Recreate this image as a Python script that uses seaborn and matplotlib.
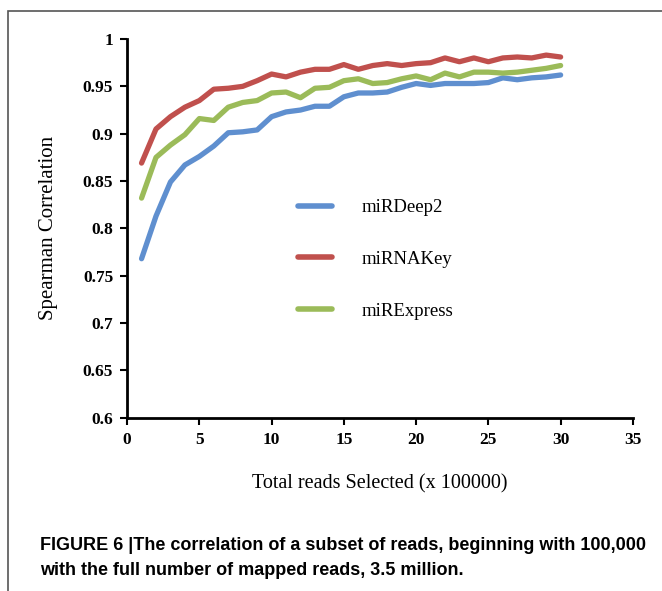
import pandas as pd
import numpy as np
import matplotlib
matplotlib.use("Agg")
import matplotlib.pyplot as plt
from matplotlib.patches import Rectangle
import seaborn as sns

reads = list(range(1, 31))
mirdeep2 = [0.768, 0.813, 0.849, 0.867, 0.876, 0.887, 0.901, 0.902, 0.904, 0.918,
            0.923, 0.925, 0.929, 0.929, 0.939, 0.943, 0.943, 0.944, 0.949, 0.953,
            0.951, 0.953, 0.953, 0.953, 0.954, 0.959, 0.957, 0.959, 0.960, 0.962]
mirnakey = [0.869, 0.905, 0.918, 0.928, 0.935, 0.947, 0.948, 0.950, 0.956, 0.963,
            0.960, 0.965, 0.968, 0.968, 0.973, 0.968, 0.972, 0.974, 0.972, 0.974,
            0.975, 0.980, 0.976, 0.980, 0.976, 0.980, 0.981, 0.980, 0.983, 0.981]
mirexpress = [0.832, 0.875, 0.888, 0.899, 0.916, 0.914, 0.928, 0.933, 0.935, 0.943,
              0.944, 0.938, 0.948, 0.949, 0.956, 0.958, 0.953, 0.954, 0.958, 0.961,
              0.957, 0.964, 0.960, 0.965, 0.965, 0.964, 0.965, 0.967, 0.969, 0.972]

names = ["miRDeep2", "miRNAKey", "miRExpress"]
colors = ["#5f8fcf", "#c0504d", "#9bbb59"]

df = pd.DataFrame({
    "x": reads * 3,
    "y": mirdeep2 + mirnakey + mirexpress,
    "tool": [n for n in names for _ in reads],
})

sns.set_style("ticks")
serif = ["Liberation Serif", "DejaVu Serif"]
sans = ["Liberation Sans Narrow", "Liberation Sans", "DejaVu Sans"]

fig = plt.figure(figsize=(6.62, 5.91), dpi=100)
ax = fig.add_axes([0.192, 0.293, 0.764, 0.641])

sns.lineplot(data=df, x="x", y="y", hue="tool", palette=colors, linewidth=3.8,
             ax=ax, solid_capstyle="round")

ax.set_xlim(0, 35)
ax.set_ylim(0.6, 1.0)
ax.set_xticks(np.arange(0, 36, 5))
ax.set_yticks(np.arange(0.6, 1.001, 0.05))
ax.set_yticklabels(["0.6", "0.65", "0.7", "0.75", "0.8", "0.85", "0.9", "0.95", "1"])
for lab in ax.get_xticklabels() + ax.get_yticklabels():
    lab.set_family(serif)
    lab.set_fontweight("bold")
    lab.set_fontsize(12.5)
    lab.set_color("black")
ax.tick_params(direction="out", length=5, width=1.5, colors="black", pad=5)

for s in ["top", "right"]:
    ax.spines[s].set_visible(False)
for s in ["left", "bottom"]:
    ax.spines[s].set_linewidth(2)
    ax.spines[s].set_color("black")

ax.set_xlabel("Total reads Selected (x 100000)", family=serif, fontsize=14.5,
              labelpad=19, color="black")
ax.set_ylabel("Spearman Correlation", family=serif, fontsize=15,
              labelpad=18, color="black")

leg = ax.legend(loc="upper left", bbox_to_anchor=(0.305, 0.622), frameon=False,
                prop={"family": serif, "size": 13.5}, handlelength=1.8,
                handletextpad=1.6, labelspacing=1.85)
for h in leg.get_lines():
    h.set_linewidth(4)
for t in leg.get_texts():
    t.set_color("black")

fig.text(0.06, 0.069, "FIGURE 6 |The correlation of a subset of reads, beginning with 100,000",
         family=sans, fontweight="bold", fontsize=13, color="black")
fig.text(0.06, 0.027, "with the full number of mapped reads, 3.5 million.",
         family=sans, fontweight="bold", fontsize=13, color="black")

fig.patches.append(Rectangle((8 / 662, -0.1), 1.2, 1 - 11 / 591 + 0.1,
                             transform=fig.transFigure, fill=False,
                             edgecolor="#555555", linewidth=1.2))

fig.savefig("out.png", dpi=100)
